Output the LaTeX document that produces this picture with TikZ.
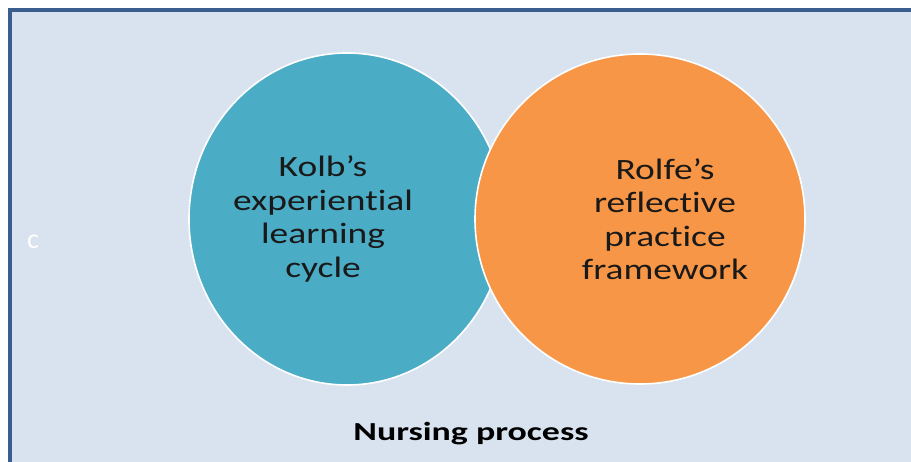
\documentclass[tikz,border=0pt]{standalone}
\usepackage{fontspec}
\setmainfont{Carlito}
\newfontfamily\widefont[FakeStretch=1.27, Ligatures=NoCommon]{Carlito}
\newfontfamily\widerfont[FakeStretch=1.38, Ligatures=NoCommon]{Carlito}
\usetikzlibrary{shapes.geometric, positioning}
\definecolor{panelfill}{HTML}{D9E3F0}
\definecolor{panelline}{HTML}{3A5F8E}
\definecolor{kolbblue}{HTML}{4BACC6}
\definecolor{rolfeorange}{HTML}{F79646}
\tikzset{
    x = 1pt, y = -1pt,                              % Work in pixels, y pointing down
    model/.style={draw=white, line width=1.6pt},    % Shared look of the two circles
    modeltext/.style={align=center, text=black!90,
        font=\widefont\fontsize{29.5}{33.5}\selectfont}, % Text inside the circles
}
\begin{document}
\begin{tikzpicture}
            % Page and frame
            \useasboundingbox (0,0) rectangle (911,462);
            \fill[white] (0,0) rectangle (911,462);
            \begin{scope}
                \clip (0,0) rectangle (911,462);
                \draw[panelline, fill=panelfill, line width=4pt] (10,10) rectangle (930,480);
            \end{scope}

            % Define nodes
            \node [model, ellipse, fill=kolbblue, minimum width=316, minimum height=332] (kolb) at (347,219) {};
            \node [model, circle, fill=rolfeorange, minimum size=330] (rolfe) at (640,219) {};
            \node [modeltext] (kolbtext) at (323,219) {Kolb’s\\experiential\\learning\\cycle};
            \node [modeltext] (rolfetext) at (665,219) {Rolfe’s\\reflective\\practice\\framework};
            \node [font=\widerfont\bfseries\fontsize{26}{29}\selectfont] (nursing) at (471,434) {Nursing process};
            \node [text=white, font=\fontsize{28}{30}\selectfont] (mark) at (33,242) {c};
        \end{tikzpicture}
\end{document}
